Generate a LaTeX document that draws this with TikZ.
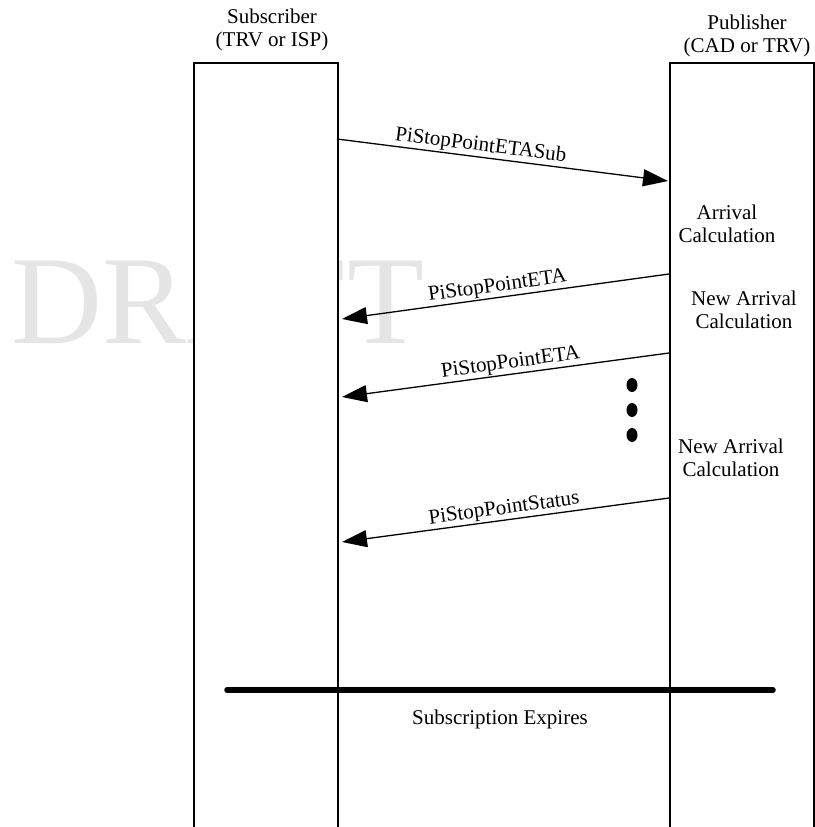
\documentclass[tikz,border=0pt]{standalone}
\usepackage{fontspec}
\setmainfont{Liberation Serif}
\usetikzlibrary{arrows.meta}

\begin{document}
\begin{tikzpicture}[x=1pt,y=-1pt,
  lbl/.style={font=\fontsize{21}{23}\selectfont, inner sep=0pt, align=center},
  lifeline/.style={draw, line width=1.6pt, fill=white, inner sep=0pt,
    minimum width=144pt, minimum height=765.5pt, anchor=north west},
  msg/.style={line width=1.3pt, -{Triangle[length=25pt,width=17pt]}},
  msglbl/.style={font=\fontsize{21}{23}\selectfont, sloped, above=0pt, inner sep=1pt},
  watermark/.style={font=\fontsize{126}{130}\selectfont, text=black!10, inner sep=0pt, anchor=base west}
]
\useasboundingbox (0,0) rectangle (814,827);

% watermark behind the lifelines
\node[watermark] (wm) at (11,343) {DRAFT};

% lifelines
\node[lifeline] (sub) at (193,62) {};
\node[lifeline] (pub) at (669,62) {};

% headers
\node[lbl] (subhdr) at (272,30) {Subscriber\\(TRV or ISP)};
\node[lbl] (pubhdr) at (747,36) {Publisher\\(CAD or TRV)};

% message end points
\coordinate (m1s) at (337,139);  \coordinate (m1e) at (668,181);
\coordinate (m2s) at (669,274);  \coordinate (m2e) at (342,319);
\coordinate (m3s) at (669,353);  \coordinate (m3e) at (342,397);
\coordinate (m4s) at (669,498);  \coordinate (m4e) at (342,542);

\draw[msg] (m1s) -- node[msglbl, pos=0.43] (l1) {PiStopPointETASub} (m1e);
\draw[msg] (m2s) -- node[msglbl, pos=0.52] (l2) {PiStopPointETA} (m2e);
\draw[msg] (m3s) -- node[msglbl, pos=0.48] (l3) {PiStopPointETA} (m3e);
\draw[msg] (m4s) -- node[msglbl, pos=0.50] (l4) {PiStopPointStatus} (m4e);

% publisher notes
\node[lbl] (calc1) at (727,224) {Arrival\\Calculation};
\node[lbl] (calc2) at (744,310) {New Arrival\\Calculation};
\node[lbl] (calc3) at (731,458) {New Arrival\\Calculation};

% continuation dots
\fill (632,385) ellipse (5.5 and 7);
\fill (632,410) ellipse (5.5 and 7);
\fill (632,435) ellipse (5.5 and 7);

% end of subscription
\coordinate (exl) at (227,690);
\coordinate (exr) at (773,690);
\draw[line width=5.5pt, line cap=round] (exl) -- (exr);
\node[lbl] (expires) at (500,719) {Subscription Expires};
\end{tikzpicture}
\end{document}
